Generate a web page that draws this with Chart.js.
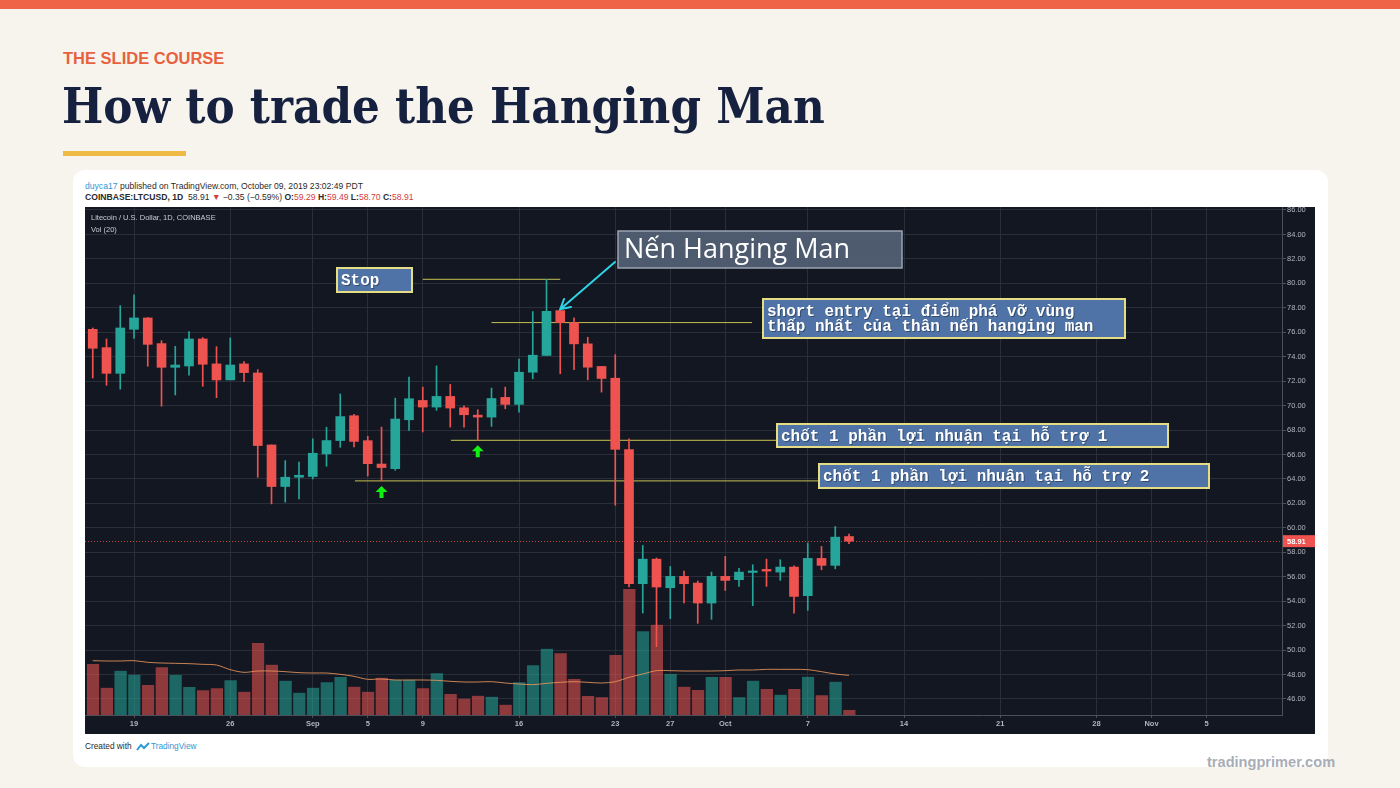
<!DOCTYPE html>
<html>
<head>
<meta charset="utf-8">
<script src="https://cdn.jsdelivr.net/npm/chart.js@4.4.1/dist/chart.umd.min.js"></script>
<style>
  html, body { margin: 0; padding: 0; }
  body { width: 1400px; height: 788px; background: #f7f4ee; position: relative; overflow: hidden; font-family: "Liberation Sans", Arial, sans-serif; }
  .topbar { position: absolute; left: 0; top: 0; width: 1400px; height: 9px; background: #ef6446; }
  .kicker { position: absolute; left: 63px; top: 48px; font-size: 16.5px; line-height: 20px; font-weight: bold; color: #e8613f; }
  h1 { position: absolute; left: 62px; top: 76px; margin: 0; font-family: "DejaVu Serif", serif; font-stretch: condensed; font-weight: bold; font-size: 48.6px; line-height: 60px; color: #16213f; white-space: nowrap; }
  .rule { position: absolute; left: 63px; top: 151px; width: 123px; height: 5px; background: #f0bb45; }
  .card { position: absolute; left: 73px; top: 170px; width: 1255px; height: 597px; background: #fff; border-radius: 12px; }
  .pub { position: absolute; left: 85px; font-size: 8.6px; line-height: 10px; color: #2a2a2a; white-space: nowrap; }
  .pub .red { color: #d43b3b; }
  .pub .blue { color: #2f9ad6; }
  #wrap { position: absolute; left: 85px; top: 207px; width: 1230px; height: 527px; background: #131722; }
  .credit { position: absolute; left: 85px; top: 741px; font-size: 8.3px; line-height: 10px; color: #2a2a2a; white-space: nowrap; }
  .credit svg { vertical-align: -2px; margin: 0 1px 0 2px; }
  .brand { position: absolute; left: 1207px; top: 753px; font-size: 14.6px; line-height: 18px; font-weight: bold; color: #a9adb5; }
</style>
</head>
<body>
<div class="topbar"></div>
<div class="kicker">THE SLIDE COURSE</div>
<h1>How to trade the Hanging Man</h1>
<div class="rule"></div>
<div class="card"></div>
<div class="pub" style="top:181px"><span class="blue">duyca17</span> published on TradingView.com, October 09, 2019 23:02:49 PDT</div>
<div class="pub" style="top:192px"><b>COINBASE:LTCUSD, 1D</b>&nbsp; 58.91 <span class="red">▼</span> −0.35 (−0.59%) <b>O:</b><span class="red">59.29</span> <b>H:</b><span class="red">59.49</span> <b>L:</b><span class="red">58.70</span> <b>C:</b><span class="red">58.91</span></div>
<div id="wrap"><canvas id="chart"></canvas></div>
<div class="credit">Created with <svg width="14" height="9" viewBox="0 0 14 9"><path d="M1 8 L5 3 L8 6 L13 1" stroke="#2f9ad6" stroke-width="2" fill="none"/></svg><span style="color:#2f9ad6">TradingView</span></div>
<div class="brand">tradingprimer.com</div>

<script>
// LTC/USD daily, Aug 16 - Oct 10 2019 (index 0 = Aug 16)
const openP  = [76.24, 74.74, 72.64, 76.24, 77.17, 75.07, 73.13, 73.24, 75.45, 73.41,
                72.10, 73.41, 72.67, 66.78, 63.38, 64.14, 64.20, 66.05, 67.14, 69.17,
                67.13, 65.22, 64.84, 68.84, 70.42, 69.88, 70.75, 69.82, 69.22, 69.06,
                70.67, 70.10, 72.73, 74.10, 77.77, 76.79, 75.05, 73.20, 72.24, 66.41,
                55.43, 57.44, 55.10, 56.03, 55.48, 53.85, 56.03, 55.76, 56.35, 56.60,
                56.38, 56.79, 54.45, 57.50, 56.93, 59.29];
const highP  = [76.35, 75.45, 78.17, 79.07, 77.20, 75.31, 74.85, 76.05, 75.56, 74.82,
                75.53, 73.60, 72.94, 66.78, 65.50, 65.37, 67.28, 68.23, 70.95, 69.28,
                67.48, 68.24, 70.61, 72.33, 71.51, 73.25, 71.73, 69.99, 69.66, 71.43,
                71.51, 73.80, 77.69, 80.33, 77.80, 77.17, 75.59, 73.20, 74.17, 67.28,
                58.56, 57.53, 56.84, 56.46, 55.65, 56.38, 57.66, 56.68, 56.98, 57.44,
                57.39, 56.90, 58.75, 58.48, 60.11, 59.49];
const lowP   = [72.26, 71.66, 71.34, 75.50, 73.22, 69.95, 70.87, 72.48, 71.58, 70.65,
                72.10, 71.96, 64.14, 61.96, 62.10, 62.37, 64.00, 65.04, 66.59, 66.61,
                64.24, 63.84, 64.71, 67.97, 67.84, 69.61, 68.24, 68.24, 67.16, 68.30,
                69.74, 69.47, 72.19, 74.10, 72.60, 72.93, 72.11, 71.10, 61.85, 55.16,
                53.03, 50.28, 52.57, 53.85, 52.19, 52.52, 54.88, 55.21, 53.63, 55.21,
                55.70, 53.03, 53.25, 56.57, 56.65, 58.70];
const closeP = [74.69, 72.64, 76.35, 77.17, 75.01, 73.13, 73.32, 75.45, 73.38, 72.10,
                73.32, 72.70, 66.73, 63.38, 64.14, 64.30, 66.10, 67.14, 69.10, 67.07,
                65.25, 64.93, 68.90, 70.56, 69.88, 70.75, 69.80, 69.25, 69.06, 70.58,
                70.10, 72.73, 74.12, 77.71, 76.79, 75.05, 73.14, 72.22, 66.42, 55.43,
                57.44, 55.16, 56.03, 55.43, 53.85, 56.03, 55.70, 56.38, 56.46, 56.46,
                56.79, 54.39, 57.50, 56.93, 59.24, 58.91];
// volume (relative units) and its 20-period average
const volume = [153, 82, 133, 121, 90, 143, 120, 84, 74, 80,
                104, 70, 216, 151, 103, 67, 82, 98, 114, 85,
                70, 112, 106, 106, 80, 125, 63, 49, 58, 55,
                31, 98, 149, 199, 185, 108, 57, 53, 180, 378,
                251, 271, 123, 85, 75, 114, 114, 53, 103, 78,
                61, 78, 115, 59, 100, 15];
const volMA  = [163, 162, 162, 163, 158, 156, 155, 154, 152, 150,
                136, 128, 132, 132, 130, 127, 126, 126, 122, 116,
                107, 108, 105, 105, 105, 104, 101, 99, 99, 100,
                96, 93, 91, 95, 98, 100, 98, 96, 100, 113,
                123, 133, 133, 132, 132, 132, 133, 135, 135, 137,
                137, 137, 136, 130, 123, 119];

const tickDays   = [3, 10, 16, 20, 24, 31, 38, 42, 46, 52, 59, 66, 73, 77, 81];
const tickLabels = ['19', '26', 'Sep', '5', '9', '16', '23', '27', 'Oct', '7', '14', '21', '28', 'Nov', '5'];
const priceTicks = [46, 48, 50, 52, 54, 56, 58, 60, 62, 64, 66, 68, 70, 72, 74, 76, 78, 80, 82, 84, 86];

// drawn levels: stop, short entry, target 1, target 2
const levelPrice = [80.33, 76.79, 67.16, 63.84];
const levelFrom  = [24, 29, 26.05, 19.07];
const levelTo    = [34, 47.95, 49.76, 52.82];
const signalDays = [21, 28];
const hangingDay = 34;
const lastPrice  = 58.91;

const UP = '#26a69a';
const DOWN = '#ef5350';
const AXIS_FONT = { family: 'Liberation Sans, Arial, sans-serif', size: 7.5 };

const isUp = openP.map((o, i) => closeP[i] >= o);

// text boxes, canvas pixels
const notes = [
  { x: 252, y: 61, w: 75, h: 24, lines: ['Stop'], kind: 'mono' },
  { x: 533, y: 24, w: 284, h: 37, lines: ['Nến Hanging Man'], kind: 'title' },
  { x: 678, y: 92, w: 362, h: 39, lines: ['short entry tại điểm phá vỡ vùng', 'thấp nhất của thân nến hanging man'], kind: 'mono' },
  { x: 692, y: 217, w: 391, h: 23, lines: ['chốt 1 phần lợi nhuận tại hỗ trợ 1'], kind: 'mono' },
  { x: 734, y: 257, w: 390, h: 24, lines: ['chốt 1 phần lợi nhuận tại hỗ trợ 2'], kind: 'mono' }
];

const overlay = {
  id: 'overlay',
  beforeDatasetsDraw(chart) {
    const { ctx, chartArea, scales } = chart;
    const y = Math.round(scales.y.getPixelForValue(lastPrice)) + 0.5;
    ctx.save();
    ctx.strokeStyle = 'rgba(239,83,80,0.8)';
    ctx.lineWidth = 1;
    ctx.setLineDash([1, 2]);
    ctx.beginPath();
    ctx.moveTo(chartArea.left, y);
    ctx.lineTo(chartArea.right, y);
    ctx.stroke();
    ctx.restore();
  },
  afterDatasetsDraw(chart) {
    const { ctx, chartArea, scales } = chart;
    ctx.save();

    // legend text top-left
    ctx.fillStyle = '#c9ccd4';
    ctx.font = '7.5px "Liberation Sans", Arial, sans-serif';
    ctx.textBaseline = 'middle';
    ctx.fillText('Litecoin / U.S. Dollar, 1D, COINBASE', 6, 11);
    ctx.fillText('Vol (20)', 6, 23);

    // last price tag on the axis
    const py = scales.y.getPixelForValue(lastPrice);
    ctx.fillStyle = DOWN;
    ctx.fillRect(chartArea.right + 1, py - 6, 32, 12);
    ctx.fillStyle = '#fff';
    ctx.font = 'bold 7.5px "Liberation Sans", Arial, sans-serif';
    ctx.fillText(lastPrice.toFixed(2), chartArea.right + 5, py + 0.5);

    // green signal arrows under the lows
    ctx.fillStyle = '#12f012';
    signalDays.forEach(d => {
      const cx = scales.x.getPixelForValue(d);
      const ty = scales.y.getPixelForValue(lowP[d]) + 5;
      ctx.beginPath();
      ctx.moveTo(cx, ty);
      ctx.lineTo(cx + 6, ty + 6);
      ctx.lineTo(cx + 2, ty + 6);
      ctx.lineTo(cx + 2, ty + 12);
      ctx.lineTo(cx - 2, ty + 12);
      ctx.lineTo(cx - 2, ty + 6);
      ctx.lineTo(cx - 6, ty + 6);
      ctx.closePath();
      ctx.fill();
    });

    // cyan arrow to the hanging man
    const tipX = scales.x.getPixelForValue(hangingDay);
    const tipY = scales.y.getPixelForValue(highP[hangingDay]) - 1;
    const fromX = notes[1].x - 3, fromY = notes[1].y + notes[1].h - 6;
    const ang = Math.atan2(tipY - fromY, tipX - fromX);
    ctx.strokeStyle = '#2fd3e6';
    ctx.lineWidth = 2;
    ctx.lineCap = 'round';
    ctx.beginPath();
    ctx.moveTo(fromX, fromY);
    ctx.lineTo(tipX, tipY);
    ctx.moveTo(tipX - 11 * Math.cos(ang - 0.5), tipY - 11 * Math.sin(ang - 0.5));
    ctx.lineTo(tipX, tipY);
    ctx.lineTo(tipX - 11 * Math.cos(ang + 0.5), tipY - 11 * Math.sin(ang + 0.5));
    ctx.stroke();

    // text boxes
    notes.forEach(n => {
      if (n.kind === 'title') {
        ctx.fillStyle = 'rgba(84,97,117,0.92)';
        ctx.fillRect(n.x, n.y, n.w, n.h);
        ctx.strokeStyle = '#9aa4b4';
        ctx.lineWidth = 1.5;
        ctx.strokeRect(n.x, n.y, n.w, n.h);
        ctx.fillStyle = '#ffffff';
        ctx.font = '27px "Open Sans", "Liberation Sans", sans-serif';
        ctx.fillText(n.lines[0], n.x + 6, n.y + n.h / 2 + 1);
      } else {
        ctx.fillStyle = '#4f73a6';
        ctx.fillRect(n.x, n.y, n.w, n.h);
        ctx.strokeStyle = '#e4dd86';
        ctx.lineWidth = 2;
        ctx.strokeRect(n.x, n.y, n.w, n.h);
        ctx.font = 'bold 16px "Liberation Mono", monospace';
        ctx.shadowColor = 'rgba(0,0,0,0.35)';
        ctx.shadowOffsetX = 1;
        ctx.shadowOffsetY = 1;
        ctx.fillStyle = '#ffffff';
        if (n.lines.length === 1) {
          ctx.fillText(n.lines[0], n.x + 4, n.y + n.h / 2 + 1);
        } else {
          ctx.fillText(n.lines[0], n.x + 4, n.y + 12.5);
          ctx.fillText(n.lines[1], n.x + 4, n.y + 28);
        }
        ctx.shadowColor = 'transparent';
      }
    });
    ctx.restore();
  }
};

const candleIdx = openP.map((_, i) => i);

new Chart(document.getElementById('chart'), {
  type: 'bar',
  data: {
    datasets: [
      {
        label: 'Body',
        data: candleIdx.map(i => ({ x: i, y: [openP[i], closeP[i]] })),
        backgroundColor: isUp.map(u => u ? UP : DOWN),
        barThickness: 9,
        minBarLength: 1.5,
        grouped: false,
        yAxisID: 'y',
        order: 0
      },
      {
        label: 'Wick',
        data: candleIdx.map(i => ({ x: i, y: [lowP[i], highP[i]] })),
        backgroundColor: isUp.map(u => u ? UP : DOWN),
        barThickness: 1,
        grouped: false,
        yAxisID: 'y',
        order: 1
      },
      ...levelPrice.map((p, k) => ({
        type: 'line',
        label: 'Level ' + k,
        data: [{ x: levelFrom[k], y: p }, { x: levelTo[k], y: p }],
        borderColor: '#c6c153',
        borderWidth: 1,
        pointRadius: 0,
        yAxisID: 'y',
        order: 2
      })),
      {
        type: 'line',
        label: 'Vol MA 20',
        data: candleIdx.map(i => ({ x: i, y: volMA[i] })),
        borderColor: 'rgba(235,150,90,0.85)',
        borderWidth: 1,
        pointRadius: 0,
        tension: 0.3,
        yAxisID: 'yv',
        order: 3
      },
      {
        label: 'Volume',
        data: candleIdx.map(i => ({ x: i, y: volume[i] })),
        backgroundColor: isUp.map(u => u ? 'rgba(38,166,154,0.56)' : 'rgba(239,83,80,0.56)'),
        borderColor: 'rgba(19,23,34,0.5)',
        borderWidth: { left: 1, right: 0, top: 0, bottom: 0 },
        barThickness: 13,
        grouped: false,
        yAxisID: 'yv',
        order: 4
      }
    ]
  },
  options: {
    responsive: true,
    maintainAspectRatio: false,
    animation: false,
    layout: { padding: 0 },
    plugins: {
      legend: { display: false },
      tooltip: { enabled: false }
    },
    scales: {
      x: {
        type: 'linear',
        position: 'bottom',
        min: -0.564,
        max: 86.49,
        offset: false,
        grid: { color: '#2a2e39', tickColor: '#4c505b', tickLength: 3, offset: false },
        border: { color: '#4c505b' },
        ticks: {
          color: '#b2b5be',
          font: { ...AXIS_FONT, weight: 'bold' },
          padding: 1,
          autoSkip: false,
          maxRotation: 0,
          callback: (v, i) => tickLabels[i]
        },
        afterBuildTicks: scale => { scale.ticks = tickDays.map(v => ({ value: v })); },
        afterFit: scale => { scale.height = 19; scale.paddingLeft = 0; scale.paddingRight = 0; }
      },
      y: {
        type: 'linear',
        position: 'right',
        min: 44.69,
        max: 86.245,
        grid: { color: '#2a2e39', tickColor: '#4c505b', tickLength: 4 },
        border: { color: '#4c505b' },
        ticks: {
          color: '#b2b5be',
          font: AXIS_FONT,
          padding: 1,
          callback: v => v.toFixed(2)
        },
        afterBuildTicks: scale => { scale.ticks = priceTicks.map(v => ({ value: v })); },
        afterFit: scale => { scale.width = 33; scale.paddingTop = 0; scale.paddingBottom = 0; }
      },
      yv: {
        type: 'linear',
        display: false,
        min: 0,
        max: 1524
      }
    }
  },
  plugins: [overlay]
});
</script>
</body>
</html>
